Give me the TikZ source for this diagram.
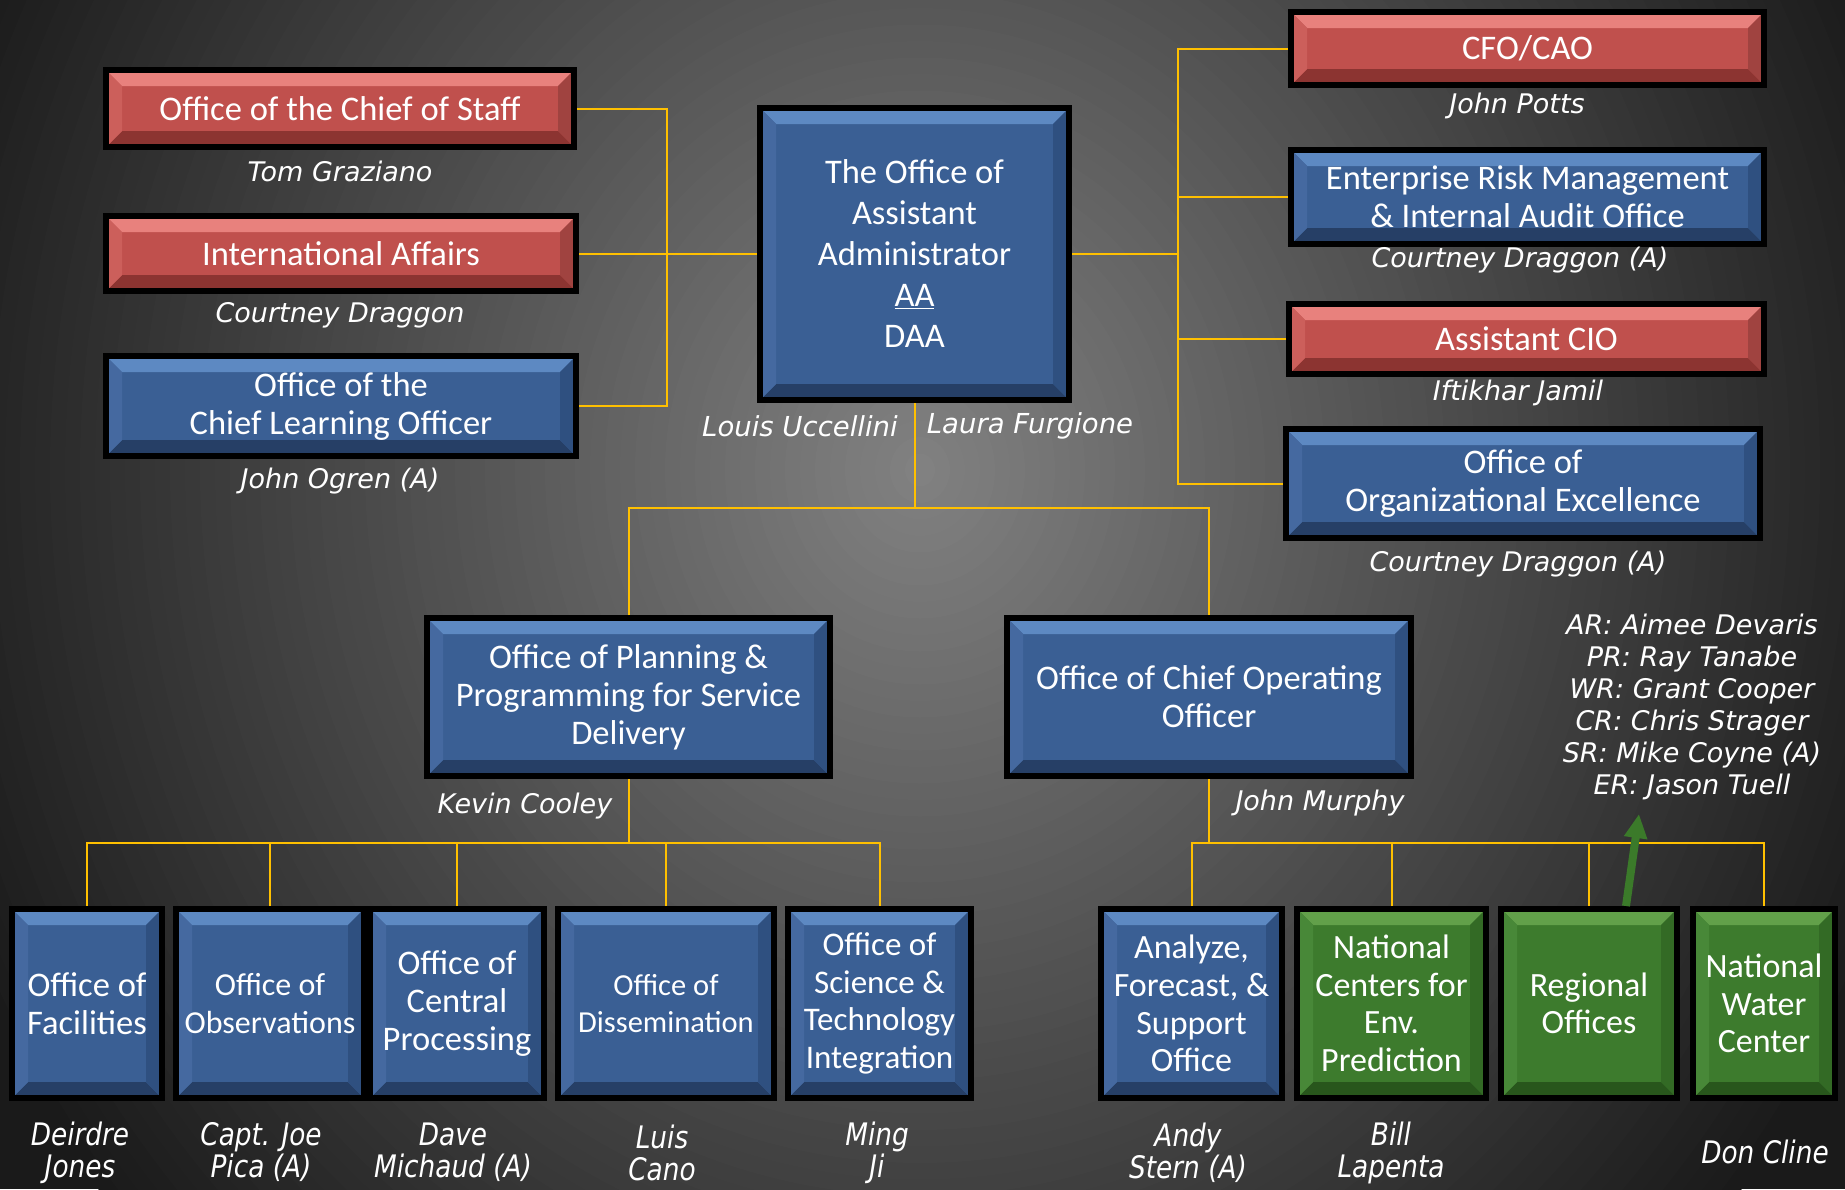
\documentclass[tikz,border=0pt]{standalone}
\usepackage{fontspec}
\setmainfont{Carlito}
\newfontfamily\namefam{DejaVu Sans}
\newfontfamily\namefamc{DejaVu Sans}[FakeStretch=0.85]
\usetikzlibrary{calc,arrows.meta}
\definecolor{bgin}{HTML}{828282}
\definecolor{bgout}{HTML}{1A1A1A}
\definecolor{redbase}{HTML}{C0504D}
\definecolor{redtop}{HTML}{E8817D}
\definecolor{redbot}{HTML}{8C3431}
\definecolor{redleft}{HTML}{CC5F5B}
\definecolor{redright}{HTML}{A04340}
\definecolor{bluebase}{HTML}{3A5F94}
\definecolor{bluetop}{HTML}{5D89C2}
\definecolor{bluebot}{HTML}{263F66}
\definecolor{blueleft}{HTML}{4569A0}
\definecolor{blueright}{HTML}{2F5080}
\definecolor{greenbase}{HTML}{3D7B2D}
\definecolor{greentop}{HTML}{62A04A}
\definecolor{greenbot}{HTML}{28561C}
\definecolor{greenleft}{HTML}{488838}
\definecolor{greenright}{HTML}{336A25}
\definecolor{gold}{HTML}{FFC000}
\definecolor{arrgreen}{HTML}{3B7A2A}
\newcommand\mybevel[2]{%
  \path (path picture bounding box.south west) coordinate (SW)
        (path picture bounding box.north east) coordinate (NE);
  \fill[#1top] (SW|-NE) -- (NE) -- ($(NE)+(-#2,#2)$) -- ($(SW|-NE)+(#2,#2)$) -- cycle;
  \fill[#1bot] (SW) -- (SW-|NE) -- ($(SW-|NE)+(-#2,-#2)$) -- ($(SW)+(#2,-#2)$) -- cycle;
  \fill[#1left] (SW|-NE) -- ($(SW|-NE)+(#2,#2)$) -- ($(SW)+(#2,-#2)$) -- (SW) -- cycle;
  \fill[#1right] (NE) -- ($(NE)+(-#2,#2)$) -- ($(SW-|NE)+(-#2,-#2)$) -- (SW-|NE) -- cycle;
}
\tikzset{
  obox/.style={draw=black, line width=6pt, fill=#1base, inner sep=0pt,
    align=center, text=white, font=\fontsize{34.5pt}{38pt}\selectfont,
    path picture={\mybevel{#1}{16}}},
  conn/.style={draw=gold, line width=2pt},
  pname/.style={text=white, font=\namefam\itshape\fontsize{27pt}{32pt}\selectfont,
    align=center, inner sep=0pt},
  bname/.style={text=white, font=\namefamc\itshape\fontsize{31pt}{32pt}\selectfont,
    align=center, inner sep=0pt},
}
\begin{document}
\begin{tikzpicture}[x=1pt,y=-1pt]
\useasboundingbox (0,0) rectangle (1845,1189);
\fill[bgout] (0,0) rectangle (1845,1189);
\begin{scope}
  \clip (0,0) rectangle (1845,1189);
  \foreach \i in {70,...,1}{
    \pgfmathsetmacro\p{100-100*\i/70}
    \fill[bgin!\p!bgout] (920,470) ellipse [x radius=\i*15pt, y radius=\i*16.5pt];
  }
\end{scope}

% bus coordinates
\coordinate (lb) at (667,0);
\coordinate (rb) at (1178,0);
\coordinate (tb) at (0,508);
\coordinate (lbus) at (0,843);

% boxes
\node[obox=red, minimum width=468pt, minimum height=77pt] (cos) at (340,108.5) {Office of the Chief of Staff};
\node[obox=red, minimum width=470pt, minimum height=75pt] (ia) at (341,253.5) {International Affairs};
\node[obox=blue, minimum width=470pt, minimum height=100pt] (clo) at (341,406) {Office of the\\Chief Learning Officer};
\node[obox=blue, minimum width=309pt, minimum height=292pt, font=\fontsize{34.5pt}{41pt}\selectfont] (aa) at (914.5,254) {The Office of\\Assistant\\Administrator\\\underline{AA}\\DAA};
\node[obox=red, minimum width=473pt, minimum height=73pt] (cfo) at (1527.5,48.5) {CFO/CAO};
\node[obox=blue, minimum width=473pt, minimum height=94pt] (erm) at (1527.5,197) {Enterprise Risk Management\\\& Internal Audit Office};
\node[obox=red, minimum width=475pt, minimum height=70pt] (acio) at (1526.5,339) {Assistant CIO};
\node[obox=blue, minimum width=474pt, minimum height=109pt] (ooe) at (1523,483.5) {Office of\\Organizational Excellence};
\node[obox=blue, minimum width=403pt, minimum height=158pt] (oppsd) at (628.5,697) {Office of Planning \&\\Programming for Service\\Delivery};
\node[obox=blue, minimum width=404pt, minimum height=158pt] (coo) at (1209,697) {Office of Chief Operating\\Officer};

\node[obox=blue, minimum width=150pt, minimum height=189pt] (fac) at (87,1003.5) {Office of\\Facilities};
\node[obox=blue, minimum width=188pt, minimum height=189pt, font=\fontsize{32pt}{37.6pt}\selectfont] (obs) at (270,1003.5) {Office of\\Observations};
\node[obox=blue, minimum width=174pt, minimum height=189pt] (ocp) at (457,1003.5) {Office of\\Central\\Processing};
\node[obox=blue, minimum width=216pt, minimum height=189pt, font=\fontsize{30.5pt}{37.6pt}\selectfont] (dis) at (666,1003.5) {Office of\\Dissemination};
\node[obox=blue, minimum width=183pt, minimum height=189pt, font=\fontsize{33pt}{37.6pt}\selectfont] (sti) at (879.5,1003.5) {Office of\\Science \&\\Technology\\Integration};
\node[obox=blue, minimum width=181pt, minimum height=189pt, font=\fontsize{34pt}{37.6pt}\selectfont] (afs) at (1191.5,1003.5) {Analyze,\\Forecast, \&\\Support\\Office};
\node[obox=green, minimum width=189pt, minimum height=189pt, font=\fontsize{34pt}{37.6pt}\selectfont] (ncep) at (1391.5,1003.5) {National\\Centers for\\Env.\\Prediction};
\node[obox=green, minimum width=176pt, minimum height=189pt, font=\fontsize{34pt}{37.6pt}\selectfont] (reg) at (1589,1003.5) {Regional\\Offices};
\node[obox=green, minimum width=142pt, minimum height=189pt, font=\fontsize{34pt}{37.6pt}\selectfont] (nwc) at (1764,1003.5) {National\\Water\\Center};

% connectors
\draw[conn] (cos.east) -| (clo.east -| lb) -- (clo.east);
\draw[conn] (ia.east) -- (ia.east -| aa.west);
\draw[conn] (aa.east) -- (aa.east -| rb);
\draw[conn] (cfo.west) -| (ooe.west -| rb) -- (ooe.west);
\draw[conn] (erm.west) -- (erm.west -| rb);
\draw[conn] (acio.west) -- (acio.west -| rb);
\draw[conn] (aa.south) -- (aa.south |- tb);
\draw[conn] (oppsd.north) |- (coo.north |- tb) -- (coo.north);
\draw[conn] (oppsd.south) -- (oppsd.south |- lbus);
\draw[conn] (fac.north) |- (sti.north |- lbus) -- (sti.north);
\draw[conn] (obs.north) -- (obs.north |- lbus);
\draw[conn] (ocp.north) -- (ocp.north |- lbus);
\draw[conn] (dis.north) -- (dis.north |- lbus);
\draw[conn] (coo.south) -- (coo.south |- lbus);
\draw[conn] (afs.north) |- (nwc.north |- lbus) -- (nwc.north);
\draw[conn] (ncep.north) -- (ncep.north |- lbus);
\draw[conn] (reg.north) -- (reg.north |- lbus);

% names
\node[pname] (n-cos) at (340,171) {Tom Graziano};
\node[pname] (n-ia) at (340,315) {Courtney Draggon};
\node[pname] (n-clo) at (340,481) {John Ogren (A)};
\node[pname, font=\namefam\itshape\fontsize{27.5pt}{32pt}\selectfont] (n-aa1) at (800,426) {Louis Uccellini};
\node[pname, font=\namefam\itshape\fontsize{27.5pt}{32pt}\selectfont] (n-aa2) at (1030,426) {Laura Furgione};
\node[pname] (n-cfo) at (1517,106) {John Potts};
\node[pname] (n-erm) at (1520,260) {Courtney Draggon (A)};
\node[pname] (n-acio) at (1518,393) {Iftikhar Jamil};
\node[pname] (n-ooe) at (1518,564) {Courtney Draggon (A)};
\node[pname] (n-oppsd) at (525,806) {Kevin Cooley};
\node[pname] (n-coo) at (1320,803) {John Murphy};
\node[pname] (n-reg) at (1692,707) {AR: Aimee Devaris\\PR: Ray Tanabe\\WR: Grant Cooper\\CR: Chris Strager\\SR: Mike Coyne (A)\\ER: Jason Tuell};
\node[bname] (n-fac) at (80,1152.5) {Deirdre\\Jones};
\node[bname] (n-obs) at (261,1152.5) {Capt. Joe\\Pica (A)};
\node[bname] (n-ocp) at (453,1152.5) {Dave\\Michaud (A)};
\node[bname] (n-dis) at (662,1152.5) {Luis\\Cano};
\node[bname] (n-sti) at (877,1152.5) {Ming\\Ji};
\node[bname] (n-afs) at (1188,1152.5) {Andy\\Stern (A)};
\node[bname] (n-ncep) at (1391,1152.5) {Bill\\Lapenta};
\node[bname] (n-nwc) at (1765,1152) {Don Cline};

\coordinate (arrtip) at (1639,814);
\draw[arrgreen, line width=8pt, -{Triangle[length=24pt,width=22pt]}] ($(reg.north)+(37,0)$) -- (arrtip);
\end{tikzpicture}
\end{document}
